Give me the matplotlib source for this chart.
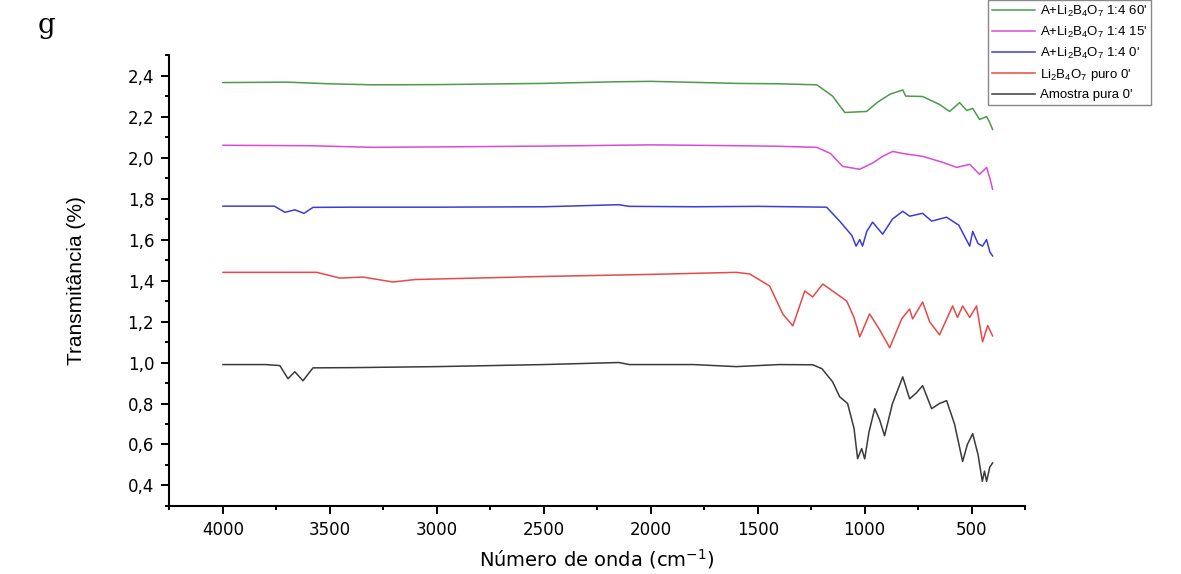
import numpy as np
import matplotlib.pyplot as plt
from matplotlib.ticker import MultipleLocator, FuncFormatter

plt.rcParams['font.family'] = ['DejaVu Sans']
plt.rcParams['mathtext.fontset'] = 'custom'
plt.rcParams['mathtext.rm'] = 'Liberation Sans'

# Amostra pura 0'
wn_black = [4000, 3800, 3734, 3696, 3664, 3626, 3579, 3400, 3000, 2500, 2150, 2100, 1800, 1600,
            1400, 1243, 1200, 1150, 1117, 1080, 1050, 1033, 1014, 1000, 980, 953, 930, 907,
            870, 822, 790, 760, 729, 687, 650, 617, 580, 542, 520, 495, 470, 450, 440, 430, 415, 402]
t_black = [0.99, 0.99, 0.985, 0.921, 0.955, 0.911, 0.974, 0.975, 0.98, 0.99, 1.0, 0.99, 0.99, 0.98,
           0.99, 0.989, 0.97, 0.906, 0.833, 0.80, 0.68, 0.531, 0.58, 0.53, 0.66, 0.775, 0.72, 0.643,
           0.80, 0.93, 0.823, 0.85, 0.887, 0.775, 0.80, 0.814, 0.70, 0.517, 0.60, 0.653, 0.55, 0.42,
           0.47, 0.42, 0.49, 0.51]

# Li2B4O7 puro 0'
wn_red = [4000, 3800, 3561, 3453, 3346, 3206, 3100, 2900, 2500, 2000, 1600, 1537, 1444, 1383,
          1336, 1280, 1243, 1196, 1150, 1084, 1050, 1023, 977, 930, 883, 827, 790, 776, 729,
          696, 650, 589, 566, 542, 509, 477, 449, 425, 402]
t_red = [1.44, 1.44, 1.44, 1.412, 1.417, 1.393, 1.405, 1.41, 1.42, 1.43, 1.44, 1.432, 1.373, 1.237,
         1.179, 1.349, 1.32, 1.383, 1.349, 1.30, 1.22, 1.125, 1.237, 1.16, 1.072, 1.213, 1.261,
         1.213, 1.295, 1.198, 1.135, 1.276, 1.22, 1.276, 1.22, 1.276, 1.101, 1.18, 1.13]

# A+Li2B4O7 1:4 0'
wn_blue = [4000, 3760, 3710, 3664, 3621, 3579, 3400, 3000, 2500, 2150, 2100, 1800, 1500, 1178,
           1117, 1060, 1040, 1023, 1010, 990, 963, 916, 870, 822, 790, 729, 687, 617, 560,
           509, 495, 470, 449, 430, 415, 402]
t_blue = [1.763, 1.763, 1.733, 1.745, 1.728, 1.757, 1.758, 1.758, 1.76, 1.77, 1.762, 1.76, 1.762,
          1.758, 1.69, 1.62, 1.568, 1.60, 1.568, 1.64, 1.685, 1.626, 1.70, 1.738, 1.714, 1.728,
          1.69, 1.709, 1.67, 1.568, 1.64, 1.58, 1.568, 1.60, 1.54, 1.52]

# A+Li2B4O7 1:4 15'
wn_mag = [4000, 3600, 3300, 3000, 2500, 2000, 1600, 1400, 1224, 1160, 1103, 1023, 960, 916,
          869, 822, 729, 636, 570, 509, 463, 430, 415, 402]
t_mag = [2.06, 2.058, 2.05, 2.052, 2.056, 2.062, 2.058, 2.055, 2.05, 2.02, 1.957, 1.943, 1.975,
         2.006, 2.03, 2.02, 2.006, 1.977, 1.952, 1.967, 1.918, 1.952, 1.90, 1.845]

# A+Li2B4O7 1:4 60'
wn_green = [4000, 3700, 3500, 3300, 3000, 2500, 2150, 2000, 1600, 1400, 1224, 1150, 1093, 991,
            940, 880, 822, 808, 729, 650, 603, 556, 523, 495, 463, 430, 415, 402]
t_green = [2.366, 2.368, 2.36, 2.355, 2.356, 2.362, 2.37, 2.372, 2.362, 2.36, 2.355, 2.30, 2.22,
           2.225, 2.27, 2.31, 2.33, 2.30, 2.298, 2.259, 2.225, 2.268, 2.23, 2.24, 2.186, 2.20,
           2.17, 2.137]

labels = [r"A+Li$_{\mathregular{2}}$B$_{\mathregular{4}}$O$_{\mathregular{7}}$ 1:4 60'",
          r"A+Li$_{\mathregular{2}}$B$_{\mathregular{4}}$O$_{\mathregular{7}}$ 1:4 15'",
          r"A+Li$_{\mathregular{2}}$B$_{\mathregular{4}}$O$_{\mathregular{7}}$ 1:4 0'",
          r"Li$_{\mathregular{2}}$B$_{\mathregular{4}}$O$_{\mathregular{7}}$ puro 0'",
          "Amostra pura 0'"]
colors = ['#4c9a4c', '#d84ad8', '#3c3cd8', '#e84848', '#3a3a3a']
series = [(wn_green, t_green), (wn_mag, t_mag), (wn_blue, t_blue),
          (wn_red, t_red), (wn_black, t_black)]

fig = plt.figure(figsize=(11.81, 5.74), dpi=100)
ax = fig.add_axes([0.1435, 0.1185, 0.7245, 0.7855])

for (x, y), c, lab in zip(series, colors, labels):
    ax.plot(x, y, color=c, lw=1.1, label=lab)

ax.set_xlim(4250, 250)
ax.set_ylim(0.3, 2.5)
ax.xaxis.set_major_locator(MultipleLocator(500))
ax.xaxis.set_minor_locator(MultipleLocator(250))
ax.yaxis.set_major_locator(MultipleLocator(0.2))
ax.yaxis.set_minor_locator(MultipleLocator(0.1))
ax.yaxis.set_major_formatter(FuncFormatter(lambda v, p: f"{v:.1f}".replace('.', ',')))

for s in ['top', 'right']:
    ax.spines[s].set_visible(False)
for s in ['left', 'bottom']:
    ax.spines[s].set_linewidth(1.5)
ax.tick_params(which='major', direction='out', length=6, width=1.4, labelsize=12, pad=5)
ax.tick_params(which='minor', direction='out', length=3, width=1.4)

ax.set_xlabel("Número de onda (cm$^{\\mathregular{-1}}$)", fontsize=14, labelpad=6)
ax.set_ylabel("Transmitância (%)", fontsize=15, labelpad=30,
              family=['Liberation Sans Narrow', 'Liberation Sans'])

fig.text(0.032, 0.955, "g", fontsize=20, family='DejaVu Serif', va='center')

leg = fig.legend(loc='upper left', bbox_to_anchor=(0.837, 1.0), fontsize=9.5,
                 frameon=True, fancybox=False, edgecolor='#888888', framealpha=1,
                 handlelength=3.2, handletextpad=0.4, labelspacing=0.45,
                 borderaxespad=0, borderpad=0.3,
                 prop={'family': 'Liberation Sans', 'size': 9.5})

fig.savefig('out.png', dpi=100)
